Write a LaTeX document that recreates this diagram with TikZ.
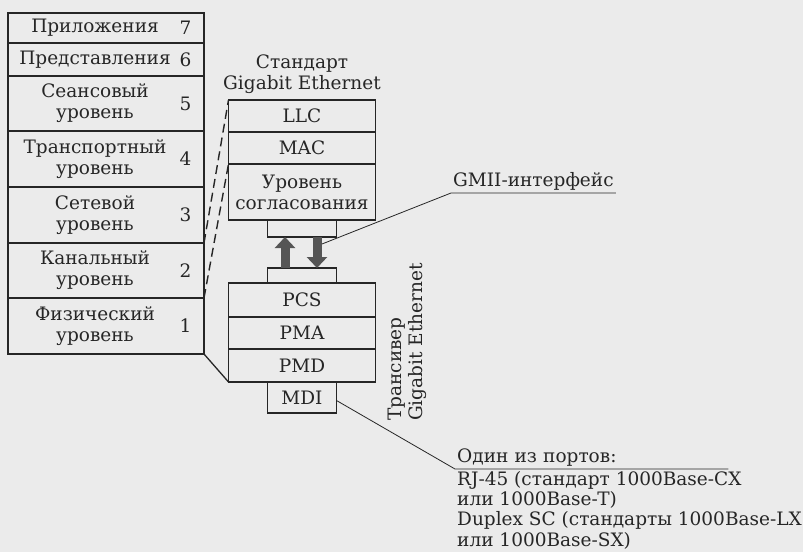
\documentclass[tikz,border=0pt]{standalone}
\usepackage{fontspec}
\setmainfont{DejaVu Serif}
\usetikzlibrary{positioning, arrows.meta}
\definecolor{ink}{HTML}{262626}
\definecolor{paper}{HTML}{ebebeb}
\definecolor{arrowgray}{HTML}{555555}
\tikzset{
  osi/.style = {rectangle, draw=ink, line width=1.7pt, minimum width=196pt,
    inner sep=0pt, outer sep=0pt},
  osiName/.style = {xshift=-11pt, align=center, text=ink},
  osiNum/.style = {label distance=-28pt, text=ink},
  ge/.style = {rectangle, draw=ink, line width=1.7pt, minimum width=147pt,
    align=center, inner sep=0pt, outer sep=0pt, text=ink},
  port/.style = {rectangle, draw=ink, line width=1.7pt, minimum width=69pt,
    align=center, inner sep=0pt, outer sep=0pt, text=ink},
  map/.style = {draw=ink, line width=1.4pt, dash pattern=on 9pt off 5pt},
  lead/.style = {draw=ink, line width=0.8pt},
  gmii/.style = {-{Triangle[width=20pt,length=11pt]}, line width=9pt, draw=arrowgray},
}

\begin{document}
\begin{tikzpicture}[x=1pt, y=-1pt, font=\fontsize{18.5}{21}\selectfont]
\fill[paper] (0,0) rectangle (803,552);
\useasboundingbox (0,0) rectangle (803,552);

% OSI model
\node[osi, minimum height=30pt, label={[osiName]center:Приложения}, label={[osiNum]east:7}] (l7) at (106,28) {};
\node[osi, minimum height=33pt, below=0pt of l7, label={[osiName]center:Представления}, label={[osiNum]east:6}] (l6) {};
\node[osi, minimum height=55pt, below=0pt of l6, label={[osiName]center:Сеансовый\\уровень}, label={[osiNum]east:5}] (l5) {};
\node[osi, minimum height=56pt, below=0pt of l5, label={[osiName]center:Транспортный\\уровень}, label={[osiNum]east:4}] (l4) {};
\node[osi, minimum height=56pt, below=0pt of l4, label={[osiName]center:Сетевой\\уровень}, label={[osiNum]east:3}] (l3) {};
\node[osi, minimum height=55pt, below=0pt of l3, label={[osiName]center:Канальный\\уровень}, label={[osiNum]east:2}] (l2) {};
\node[osi, minimum height=56pt, below=0pt of l2, label={[osiName]center:Физический\\уровень}, label={[osiNum]east:1}] (l1) {};

% Gigabit Ethernet
\node[ge, minimum height=32pt] (llc) at (302,116) {LLC};
\node[ge, minimum height=32pt, below=0pt of llc] (mac) {MAC};
\node[ge, minimum height=56pt, below=0pt of mac] (rec) {Уровень\\согласования};
\node[port, minimum height=17pt, below=0pt of rec] (gmiiTop) {};
\node[port, minimum height=15pt, below=31pt of gmiiTop] (gmiiBot) {};
\node[ge, minimum height=34pt, below=0pt of gmiiBot] (pcs) {PCS};
\node[ge, minimum height=32pt, below=0pt of pcs] (pma) {PMA};
\node[ge, minimum height=33pt, below=0pt of pma] (pmd) {PMD};
\node[port, minimum height=31pt, below=0pt of pmd] (mdi) {MDI};

\node[above=6pt of llc, align=center, inner sep=0pt, text=ink] (std) {Стандарт\\Gigabit Ethernet};
\node[rotate=90, anchor=west, align=left, inner sep=0pt, text=ink] (trx) at (407,421) {Трансивер\\Gigabit Ethernet};

\node[anchor=south west, inner sep=2pt, text=ink] (gmiiLbl) at (451,193) {GMII-интерфейс};
\node[anchor=south west, inner sep=2pt, text width=269pt, text=ink] (portLbl) at (455,469) {Один из портов:};
\node[below=0pt of portLbl.south west, anchor=north west, align=left, inner sep=2pt, text=ink,
  font=\fontsize{18.5}{20.3}\selectfont] (portList)
  {RJ-45 (стандарт 1000Base-CX\\или 1000Base-T)\\Duplex SC (стандарты 1000Base-LX\\или 1000Base-SX)};
\coordinate (gmiiTip) at (322,244);

\draw[map] (l2.north east) -- (llc.north west);
\draw[map] (l2.south east) -- (mac.south west);
\draw[draw=ink, line width=1.3pt] (l1.south east) -- (pmd.south west);
\draw[gmii] ([xshift=-17pt]gmiiBot.north) -- ([xshift=-17pt]gmiiTop.south);
\draw[gmii] ([xshift=15pt]gmiiTop.south) -- ([xshift=15pt]gmiiBot.north);
\draw[lead] (gmiiTip) -- (gmiiLbl.south west) -- (gmiiLbl.south east);
\draw[lead] ([yshift=-3pt]mdi.east) -- (portLbl.south west) -- (portLbl.south east);

\end{tikzpicture}
\end{document}
